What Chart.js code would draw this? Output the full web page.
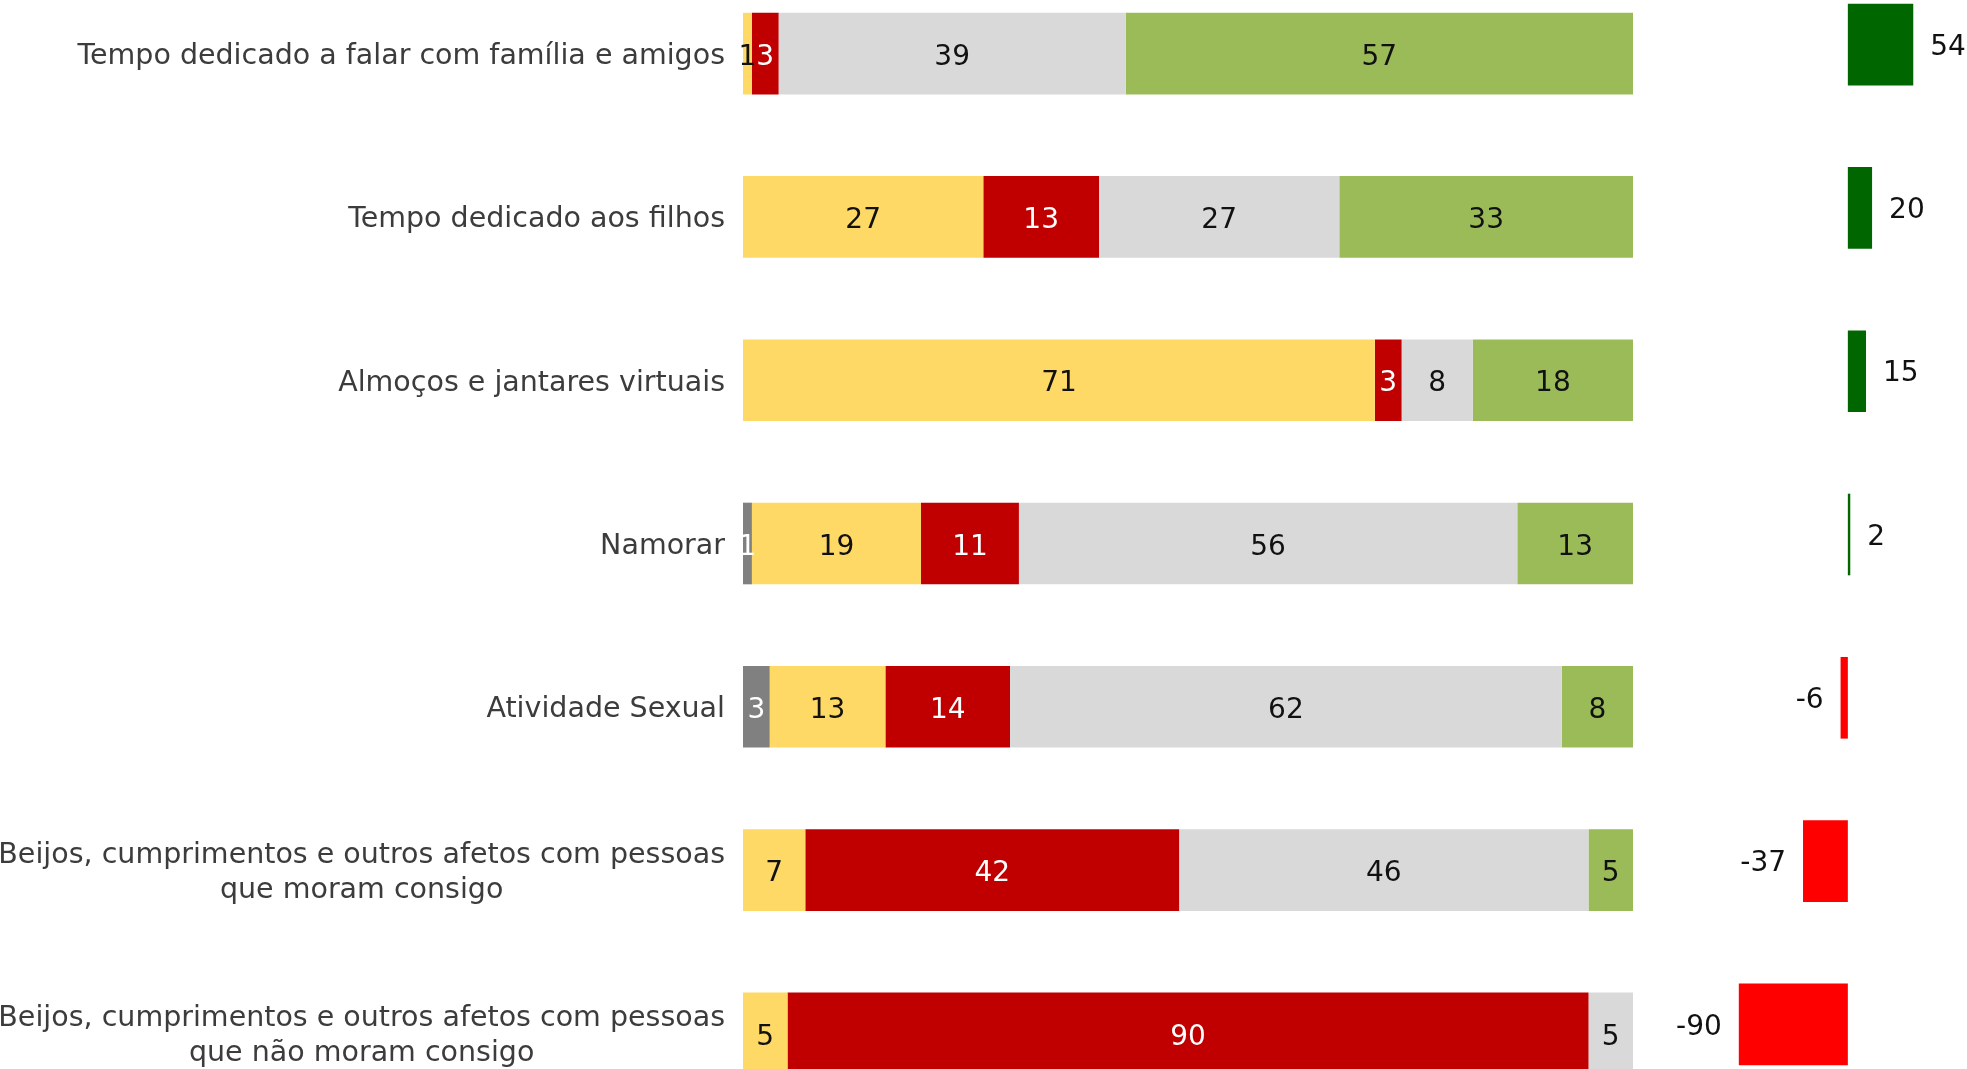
<!DOCTYPE html>
<html>
<head>
<meta charset="utf-8">
<script src="https://cdn.jsdelivr.net/npm/chart.js@4.4.1/dist/chart.umd.min.js"></script>
<style>
  html, body { margin: 0; padding: 0; background: #fff; overflow: hidden; width: 1967px; height: 1069px; }
  .box { position: absolute; }
</style>
</head>
<body>
<div class="box" style="left:0; top:-28px; width:1633px; height:1143px;"><canvas id="principal"></canvas></div>
<div class="box" style="left:1654px; top:-37px; width:315px; height:1143px;"><canvas id="saldo"></canvas></div>
<script>
// categorias
const categorias = [
  'Tempo dedicado a falar com família e amigos',
  'Tempo dedicado aos filhos',
  'Almoços e jantares virtuais',
  'Namorar',
  'Atividade Sexual',
  ['Beijos, cumprimentos e outros afetos com pessoas', 'que moram consigo'],
  ['Beijos, cumprimentos e outros afetos com pessoas', 'que não moram consigo']
];

// valores (%)
const nsnr      = [0, 0, 0, 1, 3, 0, 0];
const naoAplica = [1, 27, 71, 19, 13, 7, 5];
const diminuiu  = [3, 13, 3, 11, 14, 42, 90];
const manteve   = [39, 27, 8, 56, 62, 46, 5];
const aumentou  = [57, 33, 18, 13, 8, 5, 0];

// saldo (aumentou - diminuiu)
const saldo = [54, 20, 15, 2, -6, -37, -90];

const FONTE = '"DejaVu Sans", sans-serif';
const COR_TEXTO = '#111';
const COR_CATEG = '#3c3c3c';

// escreve os valores dentro dos segmentos e os nomes das categorias
const etiquetasPlugin = {
  id: 'etiquetas',
  afterDatasetsDraw(chart) {
    const ctx = chart.ctx;
    ctx.save();
    ctx.font = '28px ' + FONTE;
    ctx.textBaseline = 'middle';
    ctx.textAlign = 'center';
    chart.data.datasets.forEach((ds, i) => {
      const meta = chart.getDatasetMeta(i);
      meta.data.forEach((bar, j) => {
        const v = ds.data[j];
        if (!v) return;
        const p = bar.getCenterPoint();
        ctx.fillStyle = ds.corEtiqueta;
        ctx.fillText(String(v), p.x, p.y + 4);
      });
    });

    // nomes das categorias
    const y = chart.scales.y;
    const xDireita = chart.chartArea.left - 18;
    ctx.font = '28.5px ' + FONTE;
    ctx.fillStyle = COR_CATEG;
    chart.data.labels.forEach((lab, i) => {
      const cy = y.getPixelForValue(i) + 3;
      if (Array.isArray(lab)) {
        const larg = Math.max(...lab.map(l => ctx.measureText(l).width));
        const cx = xDireita - larg / 2;
        const alt = 35;
        ctx.textAlign = 'center';
        lab.forEach((l, k) => {
          ctx.fillText(l, cx, cy + (k - (lab.length - 1) / 2) * alt);
        });
      } else {
        ctx.textAlign = 'right';
        ctx.fillText(lab, xDireita, cy);
      }
    });
    ctx.restore();
  }
};

new Chart(document.getElementById('principal'), {
  type: 'bar',
  data: {
    labels: categorias,
    datasets: [
      { label: 'NS/NR', data: nsnr, backgroundColor: '#808080', corEtiqueta: '#fff' },
      { label: 'Não se aplica', data: naoAplica, backgroundColor: '#FFD966', corEtiqueta: COR_TEXTO },
      { label: 'Diminuiu', data: diminuiu, backgroundColor: '#C00000', corEtiqueta: '#fff' },
      { label: 'Manteve-se', data: manteve, backgroundColor: '#D9D9D9', corEtiqueta: COR_TEXTO },
      { label: 'Aumentou', data: aumentou, backgroundColor: '#9BBB59', corEtiqueta: COR_TEXTO }
    ]
  },
  options: {
    indexAxis: 'y',
    responsive: true,
    maintainAspectRatio: false,
    animation: false,
    layout: { padding: { left: 743, right: 0, top: 0, bottom: 0 } },
    datasets: { bar: { categoryPercentage: 1, barPercentage: 0.5, borderWidth: 0 } },
    plugins: { legend: { display: false }, tooltip: { enabled: false } },
    scales: {
      x: { stacked: true, min: 0, max: 100, display: false },
      y: { stacked: true, display: false }
    }
  },
  plugins: [etiquetasPlugin]
});

// barras do saldo, valor fora da ponta da barra
const saldoPlugin = {
  id: 'saldoEtiquetas',
  afterDatasetsDraw(chart) {
    const ctx = chart.ctx;
    ctx.save();
    ctx.font = '28px ' + FONTE;
    ctx.textBaseline = 'middle';
    ctx.fillStyle = COR_TEXTO;
    const meta = chart.getDatasetMeta(0);
    meta.data.forEach((bar, j) => {
      const v = chart.data.datasets[0].data[j];
      if (v >= 0) {
        ctx.textAlign = 'left';
        ctx.fillText(String(v), bar.x + 17, bar.y + 3);
      } else {
        ctx.textAlign = 'right';
        ctx.fillText(String(v), bar.x - 17, bar.y + 3);
      }
    });
    ctx.restore();
  }
};

new Chart(document.getElementById('saldo'), {
  type: 'bar',
  data: {
    labels: categorias,
    datasets: [{
      label: 'Saldo',
      data: saldo,
      backgroundColor: saldo.map(v => v >= 0 ? '#006600' : '#FF0000'),
      borderWidth: 0
    }]
  },
  options: {
    indexAxis: 'y',
    responsive: true,
    maintainAspectRatio: false,
    animation: false,
    layout: { padding: 0 },
    datasets: { bar: { categoryPercentage: 1, barPercentage: 0.5, minBarLength: 2 } },
    plugins: { legend: { display: false }, tooltip: { enabled: false } },
    scales: {
      x: { min: -160, max: 100, display: false },
      y: { display: false }
    }
  },
  plugins: [saldoPlugin]
});
</script>
</body>
</html>
